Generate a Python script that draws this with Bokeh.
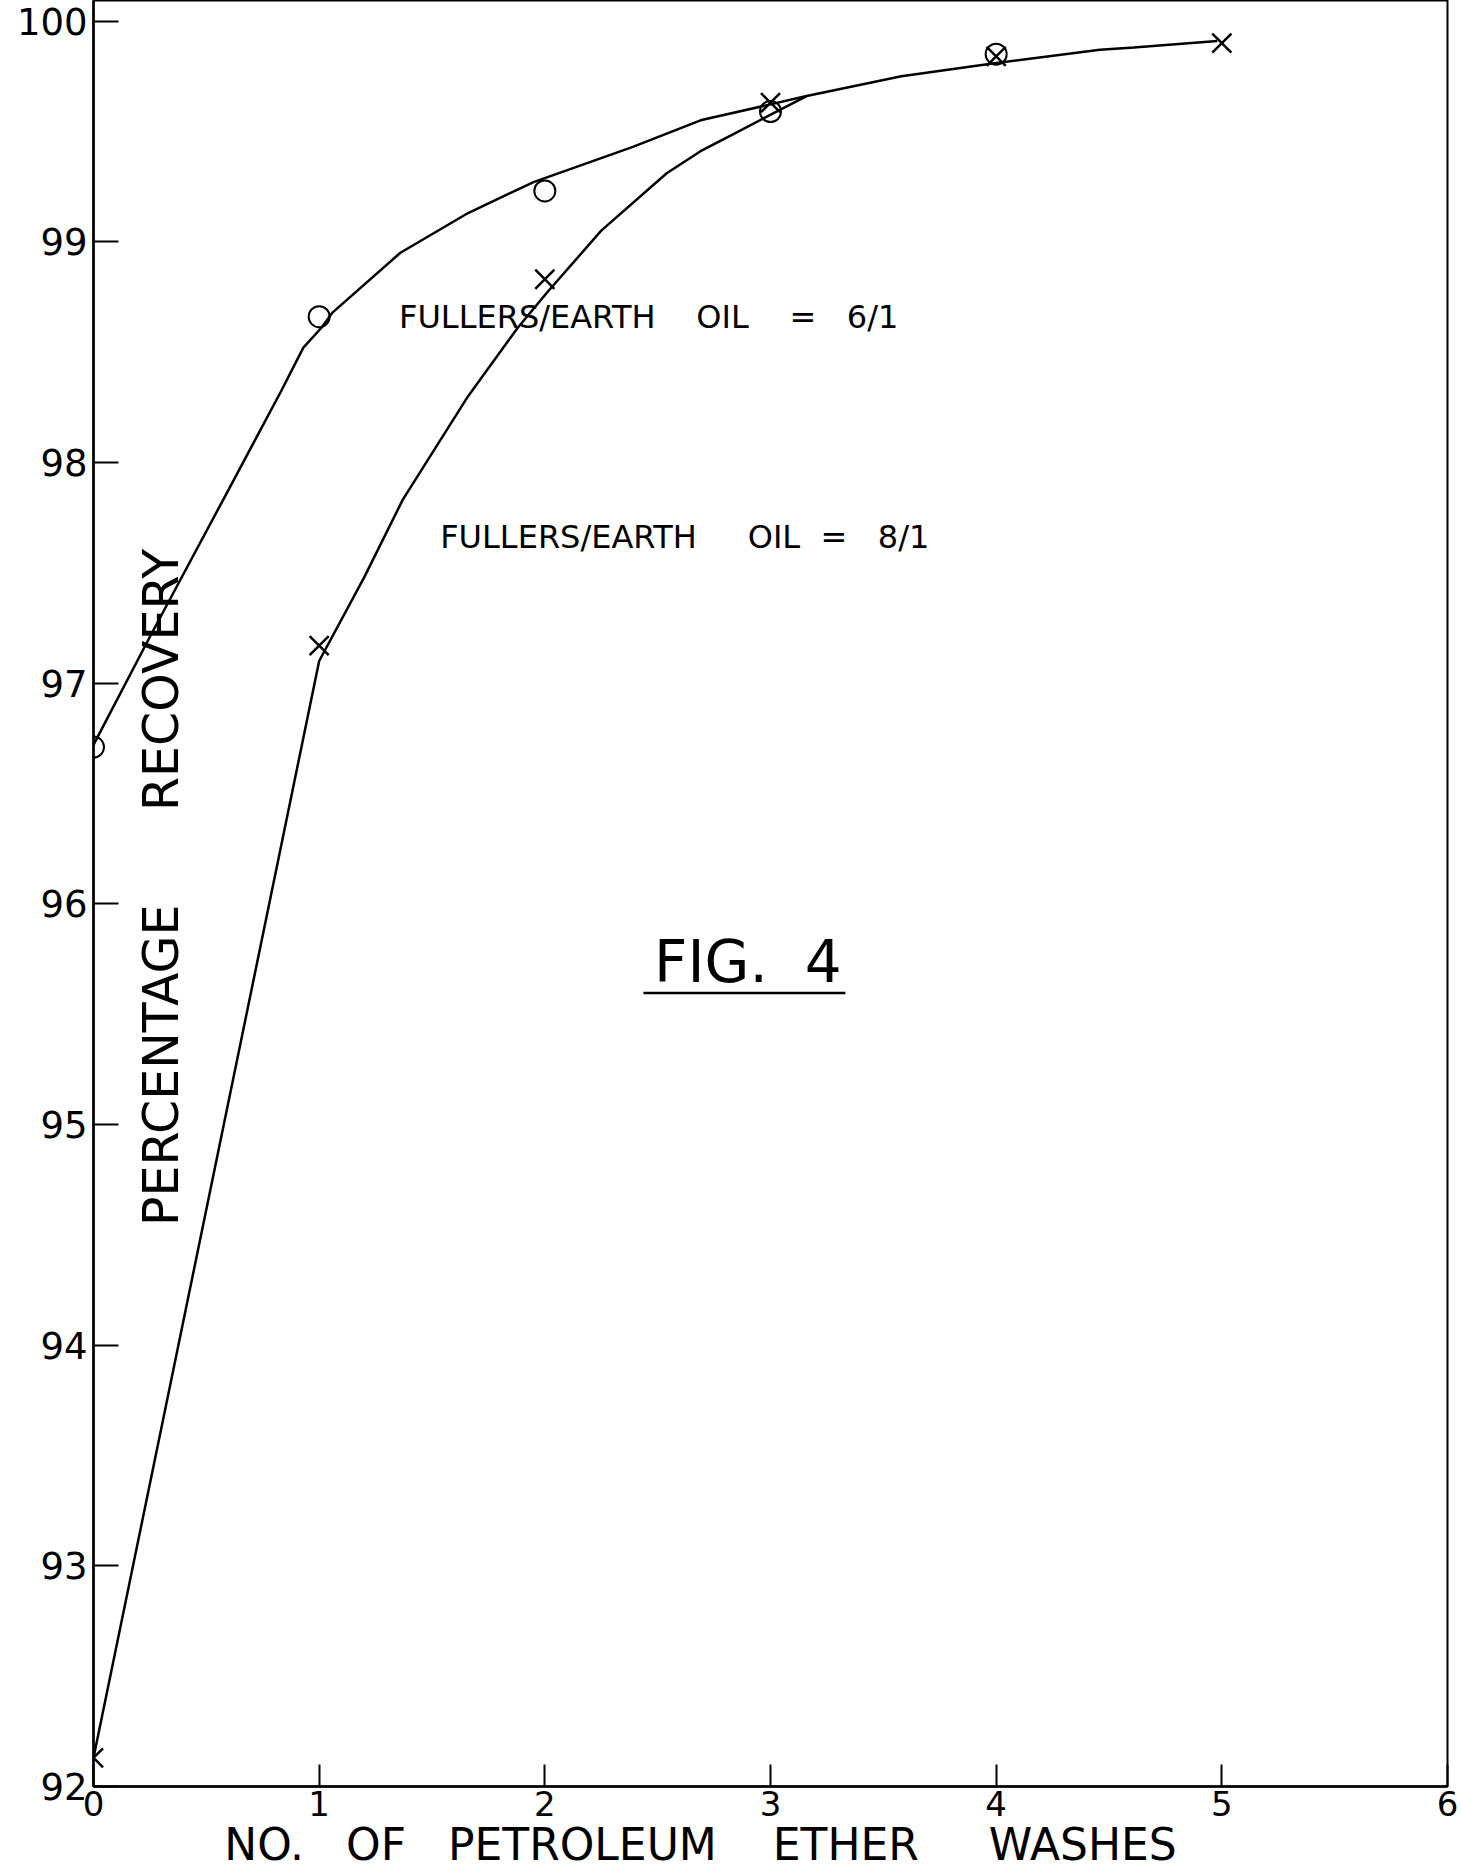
import math
from bokeh.plotting import figure
from bokeh.models import Range1d, FixedTicker
from bokeh.core.properties import value
from bokeh.embed import file_html
from bokeh.resources import INLINE

# ---- data ----
washes_6_1 = [0, 1, 2, 3, 4]
recovery_6_1 = [96.71, 98.66, 99.23, 99.59, 99.85]

washes_8_1 = [0, 1, 2, 3, 4, 5]
recovery_8_1 = [92.13, 97.17, 98.83, 99.63, 99.84, 99.90]

# hand-drawn fitted curves (vertices)
curve_6_1_x = [0.00, 0.25, 0.59, 0.83, 0.93, 1.01, 1.06, 1.36, 1.66, 1.95, 2.39,
               2.69, 2.99, 3.16, 3.58, 4.00, 4.46, 4.61, 4.98]
curve_6_1_y = [96.72, 97.21, 97.86, 98.32, 98.52, 98.61, 98.68, 98.95, 99.13, 99.27, 99.43,
               99.55, 99.62, 99.66, 99.75, 99.81, 99.87, 99.88, 99.91]

curve_8_1_x = [0.00, 1.00, 1.20, 1.37, 1.66, 1.88, 2.01, 2.25, 2.54, 2.69, 2.84, 2.99, 3.16]
curve_8_1_y = [92.13, 97.10, 97.48, 97.83, 98.30, 98.61, 98.77, 99.05, 99.31, 99.41, 99.49, 99.57, 99.66]

x_ticks = [0, 1, 2, 3, 4, 5, 6]
y_ticks = [92, 93, 94, 95, 96, 97, 98, 99, 100]

S = "\u00a0"  # non-collapsing space, keeps the wide gaps of the lettering
label_6_1 = "FULLERS/EARTH" + S * 4 + "OIL" + S * 4 + "=" + S * 3 + "6/1"
label_8_1 = "FULLERS/EARTH" + S * 5 + "OIL" + S * 2 + "=" + S * 3 + "8/1"
y_title = "PERCENTAGE" + S * 6 + "RECOVERY"
x_title = "NO." + S * 3 + "OF" + S * 3 + "PETROLEUM" + S * 4 + "ETHER" + S * 5 + "WASHES" + S * 10
fig_title = "FIG." + S + S + "4"

FONT = "DejaVu Sans"
INK = "#000000"

p = figure(width=1461, height=1872,
           x_range=Range1d(0, 6), y_range=Range1d(92, 100.093),
           output_backend="svg", toolbar_location=None,
           min_border_left=93, min_border_right=14,
           min_border_top=0, min_border_bottom=85,
           background_fill_color="white", border_fill_color="white")

p.grid.visible = False
p.outline_line_color = INK
p.outline_line_width = 2
p.outline_line_alpha = 1.0

for ax in (p.xaxis[0], p.yaxis[0]):
    ax.axis_line_color = INK
    ax.axis_line_width = 2.5
    ax.major_tick_line_color = INK
    ax.major_tick_line_width = 2
    ax.major_tick_out = 0
    ax.minor_tick_line_color = None
    ax.major_label_text_font = FONT
    ax.major_label_text_color = INK

p.xaxis.ticker = FixedTicker(ticks=x_ticks)
p.yaxis.ticker = FixedTicker(ticks=y_ticks)
p.xaxis.major_tick_in = 22
p.yaxis.major_tick_in = 25
p.xaxis.major_label_text_font_size = "34px"
p.yaxis.major_label_text_font_size = "37px"
p.xaxis.major_label_standoff = 4
p.yaxis.major_label_standoff = 6

p.xaxis.axis_label = x_title
p.xaxis.axis_label_text_font = FONT
p.xaxis.axis_label_text_font_size = "44px"
p.xaxis.axis_label_text_font_style = "normal"
p.xaxis.axis_label_text_color = INK
p.xaxis.axis_label_standoff = 0

# curves
p.line(curve_6_1_x, curve_6_1_y, line_color=INK, line_width=2.5)
p.line(curve_8_1_x, curve_8_1_y, line_color=INK, line_width=2.5)

# points
p.scatter(washes_6_1, recovery_6_1, marker="circle", size=21,
          fill_color=None, line_color=INK, line_width=2)
p.scatter(washes_8_1, recovery_8_1, marker="x", size=27,
          line_color=INK, line_width=2.5)

# in-plot texts
p.text(x=[2.46, 2.62], y=[98.658, 97.661], text=[label_6_1, label_8_1],
       text_font=value(FONT), text_font_size=value("32px"), text_color=INK,
       text_align="center", text_baseline="middle")

p.text(x=[0.30], y=[96.074], text=[y_title], angle=math.pi / 2,
       text_font=value(FONT), text_font_size=value("49px"), text_color=INK,
       text_align="center", text_baseline="middle")

p.text(x=[2.90], y=[95.734], text=[fig_title],
       text_font=value(FONT), text_font_size=value("58px"), text_color=INK,
       text_align="center", text_baseline="middle")
p.segment(x0=[2.437], y0=[95.596], x1=[3.332], y1=[95.596],
          line_color=INK, line_width=2.5)

open("out.html", "w").write(file_html(p, INLINE))
